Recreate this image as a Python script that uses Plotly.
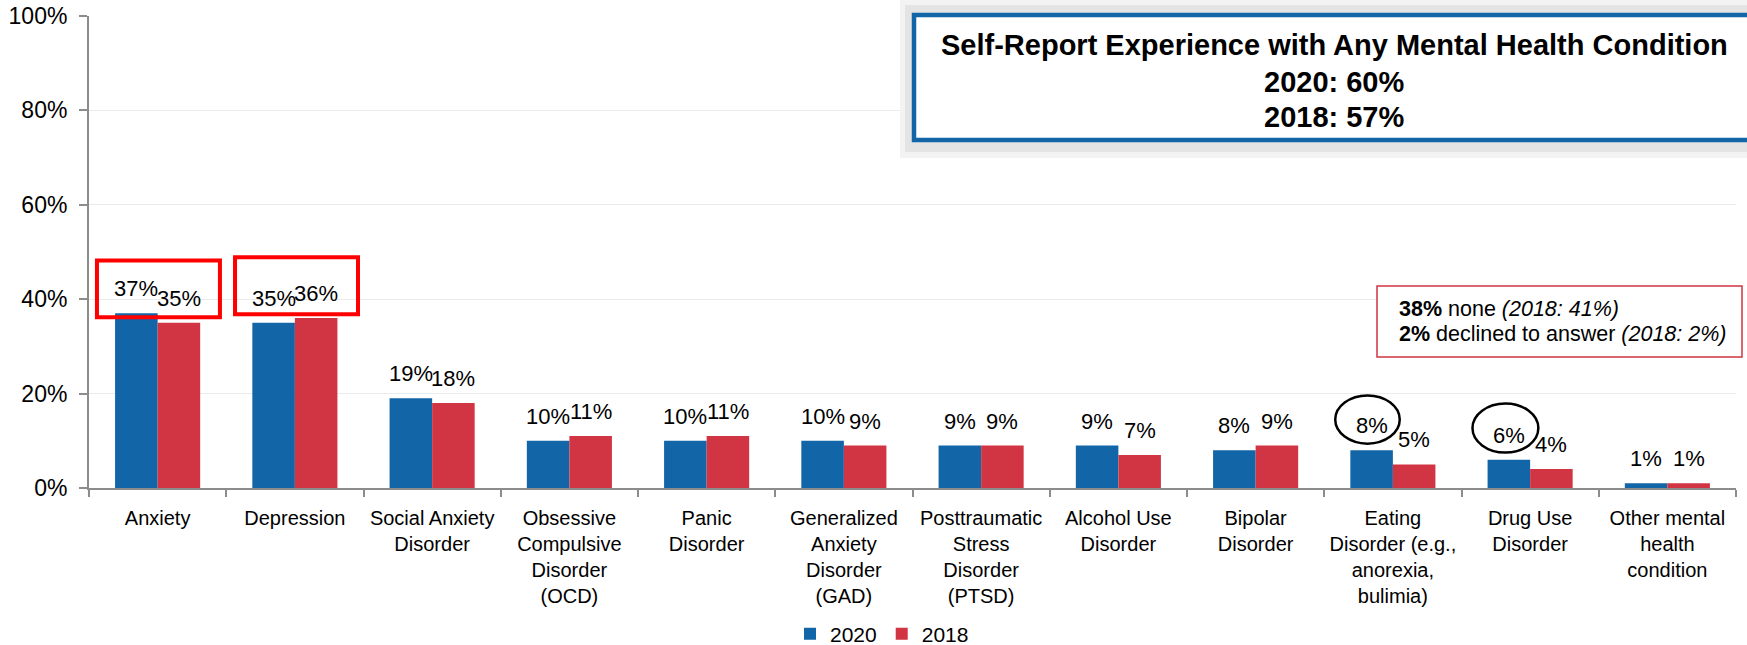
import plotly.graph_objects as go

categories = [
    "Anxiety", "Depression", "Social Anxiety<br>Disorder",
    "Obsessive<br>Compulsive<br>Disorder<br>(OCD)", "Panic<br>Disorder",
    "Generalized<br>Anxiety<br>Disorder<br>(GAD)",
    "Posttraumatic<br>Stress<br>Disorder<br>(PTSD)", "Alcohol Use<br>Disorder",
    "Bipolar<br>Disorder", "Eating<br>Disorder (e.g.,<br>anorexia,<br>bulimia)",
    "Drug Use<br>Disorder", "Other mental<br>health<br>condition",
]
values_2020 = [37, 35, 19, 10, 10, 10, 9, 9, 8, 8, 6, 1]
values_2018 = [35, 36, 18, 11, 11, 9, 9, 7, 9, 5, 4, 1]
series_names = ["2020", "2018"]
y_ticks = [0, 20, 40, 60, 80, 100]
y_tick_labels = ["0%", "20%", "40%", "60%", "80%", "100%"]

title_lines = ["Self-Report Experience with Any Mental Health Condition", "2020: 60%", "2018: 57%"]
note_lines = ["<b>38%</b> none <i>(2018: 41%)</i>",
              "<b>2%</b> declined to answer <i>(2018: 2%)</i>"]

BLUE = "#1265a7"
RED = "#d13442"
FONT = "Liberation Sans, Arial, sans-serif"
BARGAP = 0.38

# page geometry (body margin removed by post_script, so figure == page)
W, H = 1747, 645
PLOT_L, PLOT_R, PLOT_T, PLOT_B = 89, 1736, 16, 488   # pixels of the plot area
ML, MR, MT, MB = PLOT_L, W - PLOT_R, PLOT_T, H - PLOT_B
PW, PH = PLOT_R - PLOT_L, PLOT_B - PLOT_T


def px(xp):
    return (xp - PLOT_L) / PW


def py(yp):
    return (PLOT_B - yp) / PH


fig = go.Figure()
for name, vals, col in [(series_names[0], values_2020, BLUE), (series_names[1], values_2018, RED)]:
    fig.add_trace(go.Bar(name=name, x=categories, y=vals, marker_color=col,
                         marker_line_width=0))

annotations = []
half = (1 - BARGAP) / 4
for k, vals in enumerate([values_2020, values_2018]):
    off = -half if k == 0 else half
    for i, v in enumerate(vals):
        annotations.append(dict(x=i + off, y=v, xref="x", yref="y", text=f"{v}%",
                                showarrow=False, yanchor="bottom", yshift=10,
                                font=dict(size=22, color="black", family=FONT)))

# title box text (one annotation per line, positioned by baseline)
for line, base in zip(title_lines, [56, 92, 127]):
    annotations.append(dict(x=px(1334), y=py(base + 7.5), xref="paper", yref="paper",
                            text="<b>" + line + "</b>", showarrow=False,
                            xanchor="center", yanchor="bottom",
                            font=dict(size=29, color="black", family=FONT)))
# note box text
for line, base in zip(note_lines, [317, 342]):
    annotations.append(dict(x=px(1397), y=py(base + 5.5), xref="paper", yref="paper",
                            text=line, showarrow=False, xanchor="left", yanchor="bottom",
                            align="left", font=dict(size=21.5, color="black", family=FONT)))

shapes = [
    # shadow of title box
    dict(type="rect", xref="paper", yref="paper", x0=px(900), x1=px(1780), y0=py(158), y1=py(0),
         fillcolor="#f3f3f3", line_width=0, layer="above"),
    dict(type="rect", xref="paper", yref="paper", x0=px(905), x1=px(1780), y0=py(152), y1=py(5),
         fillcolor="#e4e4e4", line_width=0, layer="above"),
    dict(type="rect", xref="paper", yref="paper", x0=px(914), x1=px(1770), y0=py(140), y1=py(15),
         fillcolor="white", line=dict(color=BLUE, width=4.5), layer="above"),
    # note box
    dict(type="rect", xref="paper", yref="paper", x0=px(1377), x1=px(1742), y0=py(357), y1=py(286),
         fillcolor="white", line=dict(color=RED, width=1.5), layer="above"),
    # red highlight boxes
    dict(type="rect", xref="x", yref="y", x0=-0.442, x1=0.454, y0=36.2, y1=48.2,
         line=dict(color="#ff0000", width=4), layer="above"),
    dict(type="rect", xref="x", yref="y", x0=0.564, x1=1.46, y0=36.8, y1=48.9,
         line=dict(color="#ff0000", width=4), layer="above"),
    # hand-drawn circles
    dict(type="circle", xref="x", yref="y", x0=8.58, x1=9.05, y0=9.4, y1=19.6,
         line=dict(color="black", width=2.5), layer="above"),
    dict(type="circle", xref="x", yref="y", x0=9.58, x1=10.06, y0=7.5, y1=17.9,
         line=dict(color="black", width=2.5), layer="above"),
]

fig.update_layout(
    template="none",
    width=W, height=H, margin=dict(l=ML, r=MR, t=MT, b=MB, autoexpand=False),
    barmode="group", bargap=BARGAP, bargroupgap=0,
    plot_bgcolor="white", paper_bgcolor="white",
    font=dict(family=FONT, color="black"),
    showlegend=True,
    legend=dict(orientation="h", x=px(882), y=(H - 634) / H, yref="container",
                xanchor="center", yanchor="middle",
                font=dict(size=21, family=FONT), traceorder="normal",
                bgcolor="rgba(0,0,0,0)"),
    annotations=annotations, shapes=shapes,
)
fig.update_xaxes(type="category", automargin=False, showline=True, linecolor="#8c8c8c",
                 linewidth=2, ticks="outside", tickson="boundaries", ticklen=7,
                 tickcolor="#8c8c8c", tickwidth=2, tickangle=0,
                 tickfont=dict(size=20, family=FONT, color="black"),
                 ticklabelstandoff=11, showgrid=False, zeroline=False)
fig.update_yaxes(range=[0, 100], automargin=False, tickvals=y_ticks, ticktext=y_tick_labels,
                 showline=True, linecolor="#8c8c8c", linewidth=2, ticks="outside", ticklen=8,
                 tickcolor="#8c8c8c", tickwidth=2, showgrid=True, gridcolor="#ebebeb",
                 gridwidth=1, tickfont=dict(size=23, family=FONT, color="black"),
                 ticklabelstandoff=7, ticklabeloverflow="allow", zeroline=False)

fig.write_html("out.html", config={"displayModeBar": False},
               post_script="document.body.style.margin='0';")
